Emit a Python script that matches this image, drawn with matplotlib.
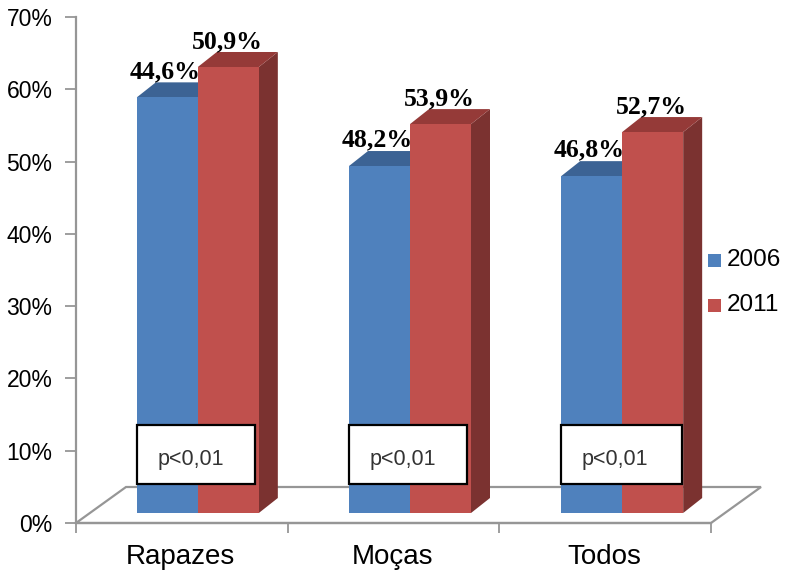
import numpy as np
import matplotlib
matplotlib.use('Agg')
import matplotlib.pyplot as plt
from matplotlib.patches import Polygon, Rectangle

categories = ['Rapazes', 'Moças', 'Todos']
series_names = ['2006', '2011']
bar_2006 = [57.5, 48.0, 46.6]
bar_2011 = [61.7, 53.8, 52.7]
labels_2006 = ['44,6%', '48,2%', '46,8%']
labels_2011 = ['50,9%', '53,9%', '52,7%']
y_ticks = [0, 10, 20, 30, 40, 50, 60, 70]

W, H = 785, 571
L, R, T, B = 76, 711, 17, 523

fig = plt.figure(figsize=(W / 100, H / 100), dpi=100)
ax = fig.add_axes([L / W, 1 - B / H, (R - L) / W, (B - T) / H])
ax.set_xlim(0, 3)
ax.set_ylim(0, 70)

px_x = 3 / (R - L)
px_y = 70 / (B - T)
grey = '#969696'
sans = 'Liberation Sans'

# floor of the 3d box
fd_x, fd_y = 50 * px_x, 36 * px_y
ax.add_patch(Polygon([(0, 0), (fd_x, fd_y), (3 + fd_x, fd_y), (3, 0)], closed=True,
                     fc='white', ec=grey, lw=1.6, clip_on=False, zorder=1))

# bar sizes
bw = 61 * px_x
dx, dy = 19 * px_x, 15 * px_y
off_x = 16 * px_x
off_y = 10 * px_y
box_w = [118, 118, 121]


def bar3d(x, val, front, top, side):
    y0 = off_y
    y1 = off_y + val
    ax.add_patch(Polygon([(x + bw, y0), (x + bw + dx, y0 + dy), (x + bw + dx, y1 + dy), (x + bw, y1)],
                         closed=True, fc=side, ec='none', clip_on=False, zorder=3))
    ax.add_patch(Polygon([(x, y1), (x + dx, y1 + dy), (x + bw + dx, y1 + dy), (x + bw, y1)],
                         closed=True, fc=top, ec='none', clip_on=False, zorder=3))
    ax.add_patch(Rectangle((x, y0), bw, val, fc=front, ec='none', clip_on=False, zorder=3))


for i in range(3):
    c = i + 0.5 + off_x + i * 0.5 * px_x
    bar3d(c - bw, bar_2006[i], '#4f81bd', '#3c6394', '#345780')
    bar3d(c, bar_2011[i], '#c0504d', '#953a38', '#7b3230')

    # value labels pasted on top of the bars
    ax.text(c - bw + 28 * px_x, bar_2006[i] + off_y + 26 * px_y, labels_2006[i], ha='center', va='center',
            family='Liberation Serif', weight='bold', fontsize=18.5, color='black', zorder=6)
    ax.text(c + 29 * px_x, bar_2011[i] + off_y + 25 * px_y, labels_2011[i], ha='center', va='center',
            family='Liberation Serif', weight='bold', fontsize=18.5, color='black', zorder=6)

    # p value box
    ax.add_patch(Rectangle((c - bw, 39 * px_y), box_w[i] * px_x, 59 * px_y, fc='white', ec='black', lw=1.6,
                           clip_on=False, zorder=5))
    ax.text(c - bw + 54 * px_x, 63 * px_y, 'p<0,01', ha='center', va='center', family=sans, fontsize=15.5,
            color='#333333', zorder=6)

# axes
for s in ['top', 'right']:
    ax.spines[s].set_visible(False)
for s in ['left', 'bottom']:
    ax.spines[s].set_color(grey)
    ax.spines[s].set_linewidth(1.6)
ax.patch.set_visible(False)
ax.set_yticks(y_ticks)
ax.set_yticklabels([str(v) + '%' for v in y_ticks], family=sans, fontsize=16.5)
ax.set_xticks([0, 1, 2, 3])
ax.set_xticklabels([])
ax.tick_params(axis='y', direction='out', length=8, width=1.3, color=grey, pad=9)
ax.tick_params(axis='x', direction='out', length=7, width=1.3, color=grey)
for i, name in enumerate(categories):
    ax.text(i + 0.5 - 0.005, (B - 564) * px_y, name, ha='center', va='baseline', family=sans, fontsize=20,
            clip_on=False)

# legend
colors = ['#4f81bd', '#c0504d']
for i, name in enumerate(series_names):
    ly = 260 + i * 45
    fig.patches.append(Rectangle((708 / W, 1 - (ly + 6.5) / H), 13 / W, 13 / H, fc=colors[i], ec='none',
                                 transform=fig.transFigure))
    fig.text(727 / W, 1 - ly / H, name, ha='left', va='center', family=sans, fontsize=17.5)

fig.savefig('out.png', dpi=100)
